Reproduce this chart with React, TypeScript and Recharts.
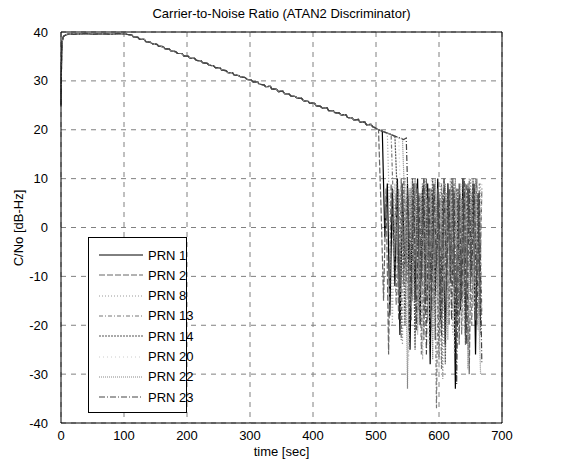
import { LineChart, Line, XAxis, YAxis, CartesianGrid, ReferenceLine } from "recharts";

const FONT = "Liberation Sans, Arial, Helvetica, sans-serif";

// common tracking part (all PRNs overlap here)
const trackTime = [
  0, 1, 2, 3, 4, 6, 8, 10, 15, 20, 30, 40, 50, 60, 70, 80, 90, 100,
  105, 112, 115, 122, 125, 132, 135, 142, 145, 152, 155, 162, 165, 172, 175, 182, 185, 192, 195, 202,
  205, 212, 215, 222, 225, 232, 235, 242, 245, 252, 255, 262, 265, 272, 275, 282, 285, 292, 295, 302,
  305, 312, 315, 322, 325, 332, 335, 342, 345, 352, 355, 362, 365, 372, 375, 382, 385, 392, 395, 402,
  405, 412, 415, 422, 425, 432, 435, 442, 445, 452, 455, 462, 465, 472, 475, 482, 485, 492, 495, 500,
];
const trackCn = [
  25, 35.5, 38, 38.8, 39.1, 39.3, 39.4, 39.5, 39.6, 39.5, 39.6, 39.7, 39.5, 39.6, 39.6, 39.5, 39.7, 39.6,
  39.5, 39.4, 39.0, 38.9, 38.5, 38.5, 38.0, 37.9, 37.6, 37.5, 37.1, 37.0, 36.6, 36.5, 36.1, 36.0, 35.6, 35.6, 35.1, 35.0,
  34.6, 34.6, 34.2, 34.1, 33.7, 33.6, 33.2, 33.1, 32.7, 32.7, 32.2, 32.1, 31.7, 31.7, 31.2, 31.1, 30.8, 30.7, 30.3, 30.2,
  29.8, 29.8, 29.3, 29.2, 28.8, 28.9, 28.3, 28.3, 27.8, 27.9, 27.4, 27.3, 26.9, 26.8, 26.4, 26.4, 25.9, 25.8, 25.4, 25.5,
  24.9, 24.8, 24.4, 24.5, 23.9, 23.9, 23.5, 23.4, 23.0, 23.1, 22.5, 22.4, 22.0, 22.1, 21.5, 21.6, 21.0, 21.1, 20.6, 20.3,
];

// loss-of-lock tails, two interleaved time grids (4 s step)
const tailTimeA = [
  502, 506, 510, 514, 518, 522, 526, 530, 534, 538, 542, 546, 550, 554, 558, 562, 566, 570, 574, 578, 582,
  586, 590, 594, 598, 602, 606, 610, 614, 618, 622, 626, 630, 634, 638, 642, 646, 650, 654, 658, 662, 666,
];
const tailTimeB = [
  504, 508, 512, 516, 520, 524, 528, 532, 536, 540, 544, 548, 552, 556, 560, 564, 568, 572, 576, 580, 584,
  588, 592, 596, 600, 604, 608, 612, 616, 620, 624, 628, 632, 636, 640, 644, 648, 652, 656, 660, 664, 668,
];

const prn1 = [20.1, 19.9, 19.7, -2, 9, -18, 8, -12, 10, -22, 7, -8, 9, -25, 6, -15, 10, -20, 8, -10, 9, -28, 7, -14, 10, -19, 5, -24, 9, -11, 8, -33, 6, -17, 10, -22, 8, -9, 9, -26, 7, -20];
const prn2 = [20.0, 4, -15, 8, -26, 9, -6, 7, -19, 10, -12, 6, -21, 8, -4, 9, -17, 7, -23, 10, -9, 8, -16, 5, -27, 9, -13, 7, -20, 10, -7, 8, -24, 6, -14, 9, -30, 7, -11, 10, -18, 8];
const prn8 = [20.1, 19.9, 19.6, 19.4, 19.2, 1, -20, 9, -10, 7, -24, 10, -14, 8, -6, 9, -21, 6, -27, 10, -12, 8, -18, 7, -9, 9, -31, 8, -15, 10, -22, 6, -8, 9, -19, 7, -25, 10, -13, 8, -21, 9];
const prn13 = [20.0, 19.8, 19.6, 19.4, 19.3, 19.1, 3, -16, 8, -23, 10, -11, 7, -19, 9, -7, 6, -26, 10, -15, 8, -21, 9, -37, 7, -29, 10, -17, 8, -12, 9, -23, 6, -22, 8, -14, 10, -20, 7, -9, 9, -18];
const prn14 = [20.1, 19.9, 19.7, 19.5, 19.3, 19.1, 18.9, 18.7, 6, -12, 9, -20, 7, -8, 10, -25, 8, -14, 9, -18, 6, -11, 10, -23, 8, -16, 7, -28, 9, -10, 10, -21, 8, -15, 6, -24, 9, -12, 10, -19, 7, -22];
const prn20 = [20.0, 19.8, 19.6, 19.4, 19.2, 19.0, 18.8, 18.6, 18.5, 2, -18, 8, -27, 10, -13, 7, -20, 9, -9, 8, -24, 10, -16, 6, -30, 9, -11, 7, -19, 10, -26, 8, -13, 9, -21, 7, -8, 10, -17, 8, -25, 9];
const prn22 = [20.1, 19.9, 19.7, 19.5, 19.3, 19.1, 18.9, 18.7, 18.5, 18.3, 18.2, 4, -33, 8, -15, 10, -22, 7, -10, 9, -19, 8, -27, 10, -12, 6, -17, 9, -23, 8, -9, 10, -20, 7, -14, 9, -29, 8, -16, 10, -11, -30];
const prn23 = [20.0, 19.8, 19.6, 19.4, 19.2, 19.0, 18.8, 18.6, 18.4, 18.2, 18.0, 18.3, 0, -14, 9, -21, 7, -11, 10, -26, 8, -17, 9, -8, 6, -22, 10, -13, 8, -19, 7, -32, 9, -15, 10, -24, 8, -10, 9, -20, 7, -28];

const xTicks = [0, 100, 200, 300, 400, 500, 600, 700];
const yTicks = [-40, -30, -20, -10, 0, 10, 20, 30, 40];

const track = trackTime.map((t, i) => ({ t, v: trackCn[i] }));
const build = (times: number[], vals: number[]) => [
  ...track,
  ...times.map((t, i) => ({ t, v: vals[i] })),
];

const series = [
  { name: "PRN 1", data: build(tailTimeA, prn1), color: "#000000", dash: undefined },
  { name: "PRN 2", data: build(tailTimeB, prn2), color: "#666666", dash: "6 2" },
  { name: "PRN 8", data: build(tailTimeA, prn8), color: "#9a9a9a", dash: "1 2" },
  { name: "PRN 13", data: build(tailTimeB, prn13), color: "#777777", dash: "4 2 1 2" },
  { name: "PRN 14", data: build(tailTimeA, prn14), color: "#555555", dash: "2 1" },
  { name: "PRN 20", data: build(tailTimeB, prn20), color: "#cccccc", dash: "1 3" },
  { name: "PRN 22", data: build(tailTimeA, prn22), color: "#888888", dash: "1 1" },
  { name: "PRN 23", data: build(tailTimeB, prn23), color: "#444444", dash: "6 2 1 2" },
];

const tickStyle = { fontSize: 13, fill: "#000", fontFamily: FONT };

export default function App() {
  return (
    <div style={{ position: "absolute", left: 0, top: 0, width: 565, height: 465, background: "#fff", fontFamily: FONT }}>
      <div style={{ position: "absolute", top: 6, left: 61, width: 441, textAlign: "center", fontSize: 13 }}>
        Carrier-to-Noise Ratio (ATAN2 Discriminator)
      </div>
      <div style={{ position: "absolute", top: 444, left: 61, width: 441, textAlign: "center", fontSize: 13 }}>
        time [sec]
      </div>
      <div style={{
        position: "absolute", left: 18, top: 228, fontSize: 13, whiteSpace: "nowrap",
        transform: "translate(-50%, -50%) rotate(-90deg)",
      }}>
        C/No [dB-Hz]
      </div>
      <LineChart width={565} height={465} data={track} margin={{ top: 32, right: 63, left: 16, bottom: 22 }}>
        <CartesianGrid stroke="#808080" strokeDasharray="5 5" />
        <XAxis
          dataKey="t"
          type="number"
          domain={[0, 700]}
          ticks={xTicks}
          allowDuplicatedCategory={false}
          tick={tickStyle}
          tickLine={false}
          tickMargin={2}
          height={20}
          axisLine={{ stroke: "#000" }}
          interval={0}
        />
        <YAxis
          type="number"
          domain={[-40, 40]}
          ticks={yTicks}
          tick={tickStyle}
          tickLine={false}
          tickMargin={7}
          width={45}
          axisLine={{ stroke: "#000" }}
          interval={0}
        />
        <ReferenceLine y={40} stroke="#000" />
        <ReferenceLine x={700} stroke="#000" />
        {series.map((s) => (
          <Line
            key={s.name}
            data={s.data}
            dataKey="v"
            type="linear"
            stroke={s.color}
            strokeWidth={1.2}
            strokeDasharray={s.dash}
            dot={false}
            activeDot={false}
            isAnimationActive={false}
          />
        ))}
      </LineChart>
      <div style={{
        position: "absolute", left: 88, top: 237, width: 99, height: 176,
        border: "1px solid #000", background: "#fff", boxSizing: "border-box",
      }}>
        {series.map((s, i) => (
          <div key={s.name} style={{ position: "absolute", left: 0, top: 9 + i * 20.3, height: 16, display: "flex", alignItems: "center" }}>
            <svg width={56} height={16} style={{ display: "block" }}>
              <line x1={10} x2={54} y1={8} y2={8} stroke={s.color} strokeWidth={1} strokeDasharray={s.dash} />
            </svg>
            <span style={{ fontSize: 13, marginLeft: 3, whiteSpace: "nowrap" }}>{s.name}</span>
          </div>
        ))}
      </div>
    </div>
  );
}
